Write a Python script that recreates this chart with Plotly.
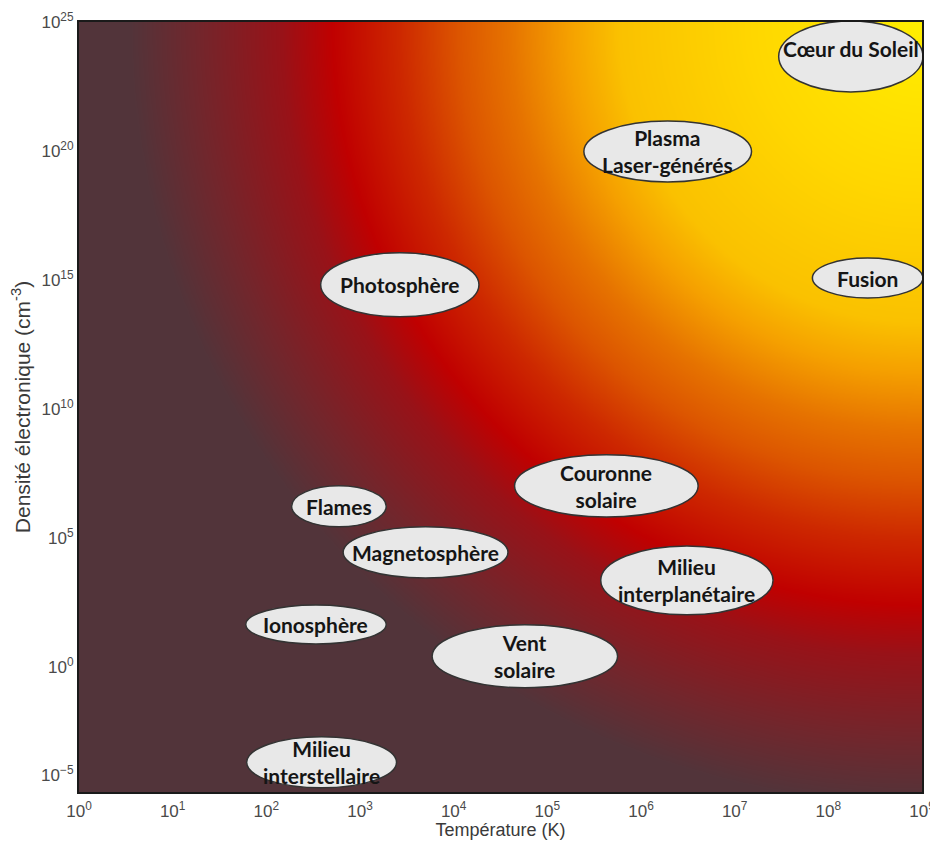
import numpy as np
import plotly.graph_objects as go

# ---- data: plasma regions (log10 bounds of temperature in K and electron density in cm^-3)
regions = ["Cœur du Soleil", "Plasma<br>Laser-générés", "Fusion", "Photosphère",
           "Couronne<br>solaire", "Flames", "Magnetosphère", "Ionosphère",
           "Vent<br>solaire", "Milieu<br>interplanétaire", "Milieu<br>interstellaire"]
logT_lo = [7.47, 5.39, 7.83, 2.58, 4.65, 2.27, 2.82, 1.78, 3.77, 5.57, 1.79]
logT_hi = [9.01, 7.18, 9.01, 4.27, 6.61, 3.28, 4.58, 3.28, 5.75, 7.41, 3.39]
logN_lo = [22.29, 18.80, 14.30, 13.57, 5.81, 5.43, 3.45, 0.89, -0.81, 2.02, -4.69]
logN_hi = [25.04, 21.16, 15.85, 16.05, 8.22, 7.02, 5.43, 2.40, 1.63, 4.69, -2.71]

# ---- tick labels
x_tick_exp = [0, 1, 2, 3, 4, 5, 6, 7, 8, 9]
y_tick_exp = [25, 20, 15, 10, 5, 0]
y_extra_label_pos = -4.2   # where the "10^-5" label sits in the reference
y_extra_label_txt = "10<sup>−5</sup>"

X_RANGE = [0.0, 9.0]
Y_RANGE = [-4.85, 25.0]

# ---- background gradient (decorative), built on a grid in log space
gx = np.linspace(X_RANGE[0], X_RANGE[1], 361)
gy = np.linspace(Y_RANGE[0], Y_RANGE[1], 301)
GX, GY = np.meshgrid(gx, gy)
u = (X_RANGE[1] - GX) / (X_RANGE[1] - X_RANGE[0])
v = (Y_RANGE[1] - GY) / (Y_RANGE[1] - Y_RANGE[0])
R = np.clip(np.sqrt(u ** 2 + (0.925 * v) ** 2), 0, 1)

colorscale = [
    [0.00, "rgb(255,238,0)"],
    [0.20, "rgb(255,215,0)"],
    [0.36, "rgb(250,193,0)"],
    [0.42, "rgb(245,160,0)"],
    [0.49, "rgb(230,115,0)"],
    [0.55, "rgb(220,85,0)"],
    [0.62, "rgb(205,40,0)"],
    [0.70, "rgb(192,0,0)"],
    [0.76, "rgb(152,18,24)"],
    [0.86, "rgb(114,38,44)"],
    [0.94, "rgb(82,52,58)"],
    [1.00, "rgb(82,52,58)"],
]

fig = go.Figure()
# invisible trace on the main log axes so they are drawn
fig.add_trace(go.Scatter(x=[10.0 ** X_RANGE[0]], y=[10.0 ** Y_RANGE[0]], mode="markers",
                         marker=dict(opacity=0), hoverinfo="skip", showlegend=False))
fig.add_trace(go.Heatmap(x=gx, y=gy, z=R, colorscale=colorscale, zmin=0, zmax=1,
                         zsmooth="best", showscale=False, hoverinfo="skip",
                         xaxis="x2", yaxis="y2"))

label_font = dict(family="Lato, 'Open Sans', sans-serif", size=21, color="#151515", weight=700)
for name, t0, t1, n0, n1 in zip(regions, logT_lo, logT_hi, logN_lo, logN_hi):
    fig.add_shape(type="circle", xref="x", yref="y",
                  x0=10.0 ** t0, x1=10.0 ** t1, y0=10.0 ** n0, y1=10.0 ** n1,
                  fillcolor="#e8e8e8", line=dict(color="#333333", width=1.5), layer="above")
    yshift = 8 if name.startswith("Cœur") else 0
    fig.add_annotation(x=(t0 + t1) / 2, y=(n0 + n1) / 2, xref="x", yref="y",
                       text=name, showarrow=False, font=label_font, yshift=yshift)

tick_font = dict(family="Liberation Sans, Arial, sans-serif", size=17, color="#4a4a4a")
fig.update_layout(
    width=930, height=832,
    margin=dict(l=71, r=16, t=14, b=48),
    paper_bgcolor="white", plot_bgcolor="white",
    showlegend=False,
    xaxis=dict(type="log", range=X_RANGE, showgrid=False, zeroline=False, automargin=False,
               tickvals=[10.0 ** e for e in x_tick_exp],
               ticktext=[f"10<sup>{e}</sup>" for e in x_tick_exp],
               tickfont=tick_font, ticks="", ticklabelstandoff=3,
               showline=True, mirror=True, linecolor="#1a1a1a", linewidth=2,
               title=dict(text="Température (K)", standoff=4,
                          font=dict(family="Liberation Sans, Arial, sans-serif", size=18, color="#3a3a3a"))),
    yaxis=dict(type="log", range=Y_RANGE, showgrid=False, zeroline=False, automargin=False,
               tickvals=[10.0 ** e for e in y_tick_exp] + [10.0 ** y_extra_label_pos],
               ticktext=[f"10<sup>{e}</sup>" for e in y_tick_exp] + [y_extra_label_txt],
               tickfont=tick_font, ticks="",
               showline=True, mirror=True, linecolor="#1a1a1a", linewidth=2,
               title=dict(text="Densité électronique (cm<sup>-3</sup>)", standoff=6,
                          font=dict(family="Liberation Sans, Arial, sans-serif", size=21, color="#3a3a3a"))),
    xaxis2=dict(overlaying="x", range=X_RANGE, visible=False, automargin=False),
    yaxis2=dict(overlaying="y", range=Y_RANGE, visible=False, automargin=False),
)

fig.write_html("out.html")
